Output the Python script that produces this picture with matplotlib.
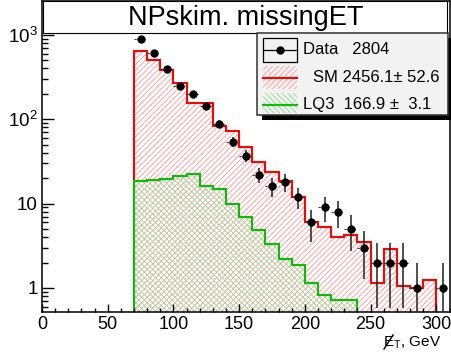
import numpy as np
import matplotlib
matplotlib.use("Agg")
import matplotlib.pyplot as plt
from matplotlib.patches import Rectangle
from matplotlib.lines import Line2D
from matplotlib.ticker import FixedLocator, FixedFormatter, MultipleLocator, LogLocator, NullFormatter

# ---------------- data ----------------
sm_edges = np.arange(70, 301, 10)
sm_values = [643, 503, 383, 266, 154, 154, 83, 73, 46.5, 31.4, 23.5, 18.5, 12.1,
             6.1, 5.3, 4.05, 4.3, 3.5, 1.14, 2.92, 1.06, 1.0, 1.25]
lq_edges = np.arange(70, 241, 10)
lq_values = [18.7, 19.0, 19.7, 21.4, 22.6, 16.2, 14.8, 9.9, 6.9, 4.87, 3.32, 2.22,
             1.86, 1.14, 0.83, 0.72, 0.72]
data_centers = np.arange(75, 306, 10)
data_counts = [891, 614, 390, 247, 197, 143, 88, 54, 37, 22, 16, 18, 12, 6, 9, 8,
               5, 3, 2, 2, 2, 1, 0, 1]
title = "NPskim. missingET"
legend_labels = ["Data   2804", "SM 2456.1\u00b1 52.6", "LQ3  166.9 \u00b1  3.1"]
xticks = [0, 50, 100, 150, 200, 250, 300]
yticks = [1, 10, 100, 1000]
yticklabels = ["1", "10", r"$\mathregular{10^{2}}$", r"$\mathregular{10^{3}}$"]

plt.rcParams['font.family'] = ['Liberation Sans', 'DejaVu Sans']
plt.rcParams['mathtext.fontset'] = 'custom'
plt.rcParams['mathtext.rm'] = 'Liberation Sans'
plt.rcParams['mathtext.it'] = 'Liberation Sans:italic'
plt.rcParams['mathtext.bf'] = 'Liberation Sans:bold'
plt.rcParams['hatch.linewidth'] = 0.6

W, H = 451, 356
fig = plt.figure(figsize=(W / 100, H / 100), dpi=100)

def fx(px):
    return px / W

def fy(py):
    return 1 - py / H

L, R, B, T = 42, 449.5, 312, 1
ax = fig.add_axes([fx(L), fy(B), fx(R) - fx(L), fy(T) - fy(B)])
ax.set_yscale('log')
ax.set_xlim(0, 310)
dec = 84.4
ax.set_ylim(10 ** (-(B - 288) / dec), 10 ** ((288 - T) / dec))

red = '#ff0000'
red_h = '#ff9a9a'
green = '#00c000'
green_h = '#8ada8a'
sm_hatch = '//////'
lq_hatch = '\\' * 6

# SM hatched fill
ax.stairs(sm_values, sm_edges, baseline=1e-3, fill=True, facecolor='none',
          edgecolor=red_h, hatch=sm_hatch, linewidth=0)
# LQ3 hatched fill
ax.stairs(lq_values, lq_edges, baseline=1e-3, fill=True, facecolor='none',
          edgecolor=green_h, hatch=lq_hatch, linewidth=0)
ax.stairs(sm_values, sm_edges, baseline=1e-3, fill=False, color=red, linewidth=1.5)
ax.stairs(lq_values, lq_edges, baseline=1e-3, fill=False, color=green, linewidth=1.5)

# Data points
dc = np.array(data_counts, dtype=float)
xc = np.array(data_centers, dtype=float)
m = dc > 0
err = np.sqrt(dc[m])
lo = np.minimum(err, dc[m] - 1e-4)
ax.hlines(dc[m], xc[m] - 5, xc[m] + 5, color='#333333', linewidth=0.8,
          linestyles=(0, (2, 2)), zorder=4)
ax.vlines(xc[m], dc[m] - lo, dc[m] + err, color='#202020', linewidth=1.1, zorder=4)
ax.plot(xc[m], dc[m], 'o', color='black', markersize=5, zorder=5)

# axes styling
for s in ax.spines.values():
    s.set_linewidth(1.1)
ax.xaxis.set_major_locator(FixedLocator(xticks))
ax.xaxis.set_minor_locator(MultipleLocator(10))
ax.yaxis.set_major_locator(FixedLocator(yticks))
ax.yaxis.set_major_formatter(FixedFormatter(yticklabels))
ax.yaxis.set_minor_locator(LogLocator(base=10, subs=np.arange(2, 10)))
ax.yaxis.set_minor_formatter(NullFormatter())
ax.tick_params(axis='x', which='major', direction='in', length=6, width=1,
               labelsize=13, pad=3)
ax.tick_params(axis='x', which='minor', direction='in', length=3, width=1)
ax.tick_params(axis='y', which='major', direction='in', length=8.6, width=1,
               labelsize=13.5, pad=3)
ax.tick_params(axis='y', which='minor', direction='in', length=4.3, width=1)

# x label with slashed E
fig.text(fx(383), fy(347), r"E$_\mathregular{T}$, GeV", ha='left', va='baseline',
         fontsize=11)
fig.lines.append(Line2D([fx(384), fx(393)], [fy(349), fy(335)], transform=fig.transFigure,
                        color='black', linewidth=1.0))

# title box
fig.patches.append(Rectangle((fx(43), fy(33)), fx(447) - fx(43), fy(1) - fy(33),
                             transform=fig.transFigure, facecolor='white',
                             edgecolor='black', linewidth=0.8, zorder=10))
fig.text(fx(245.5), fy(18), title, ha='center', va='center', fontsize=19.5, zorder=11)

# legend
lx0, lx1, ly0, ly1 = 257, 448, 33, 115
fig.patches.append(Rectangle((fx(lx0 + 5), fy(ly1 + 5)), fx(lx1) - fx(lx0), fy(ly0) - fy(ly1),
                             transform=fig.transFigure, facecolor='black',
                             edgecolor='none', zorder=10))
fig.patches.append(Rectangle((fx(lx0), fy(ly1)), fx(lx1) - fx(lx0), fy(ly0) - fy(ly1),
                             transform=fig.transFigure, facecolor='#f2f2f2',
                             edgecolor='#333333', linewidth=1.1, zorder=11))
# Data symbol
fig.patches.append(Rectangle((fx(263), fy(62)), fx(297) - fx(263), fy(38) - fy(62),
                             transform=fig.transFigure, facecolor='none',
                             edgecolor='black', linewidth=0.9, zorder=12))
fig.lines.append(Line2D([fx(263), fx(297)], [fy(49.5), fy(49.5)], transform=fig.transFigure,
                        color='black', linewidth=0.9, zorder=12))
fig.lines.append(Line2D([fx(280)], [fy(49.5)], transform=fig.transFigure, marker='o',
                        markersize=5, color='black', zorder=13))
# SM symbol
fig.patches.append(Rectangle((fx(263), fy(89)), fx(297) - fx(263), fy(66) - fy(89),
                             transform=fig.transFigure, facecolor='none',
                             edgecolor=red_h, hatch=sm_hatch, linewidth=0, zorder=12))
fig.lines.append(Line2D([fx(263), fx(297)], [fy(77.5), fy(77.5)], transform=fig.transFigure,
                        color=red, linewidth=1.5, zorder=13))
# LQ3 symbol
fig.patches.append(Rectangle((fx(263), fy(113)), fx(297) - fx(263), fy(93) - fy(113),
                             transform=fig.transFigure, facecolor='none',
                             edgecolor=green_h, hatch=lq_hatch, linewidth=0, zorder=12))
fig.lines.append(Line2D([fx(263), fx(297)], [fy(104.5), fy(104.5)], transform=fig.transFigure,
                        color=green, linewidth=1.5, zorder=13))
fig.text(fx(303), fy(50), legend_labels[0], ha='left', va='center', fontsize=12, zorder=14)
fig.text(fx(313), fy(77.5), legend_labels[1], ha='left', va='center', fontsize=12, zorder=14)
fig.text(fx(303), fy(105), legend_labels[2], ha='left', va='center', fontsize=12, zorder=14)

fig.savefig("out.png", dpi=100)
